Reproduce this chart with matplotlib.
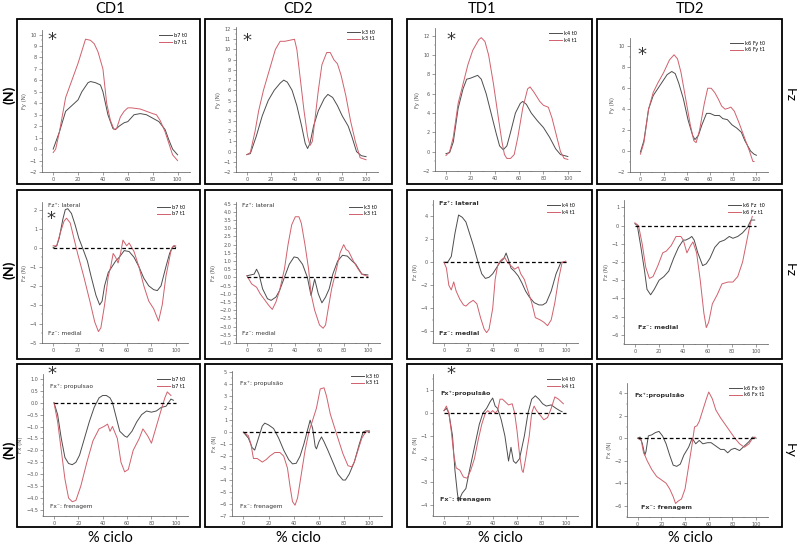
import matplotlib
matplotlib.use('Agg')
import matplotlib.pyplot as plt
from matplotlib.patches import Rectangle
from matplotlib.ticker import MultipleLocator, AutoMinorLocator

W, H = 797, 549

columns = ['CD1', 'CD2', 'TD1', 'TD2']
row_names = ['Fz', 'Fz', 'Fy']

# ---- Fy row ----
cd1_fy_t0_x = [0, 5, 10, 15, 20, 23, 28, 30, 34, 38, 40, 44, 48, 50, 53, 57, 60, 65, 70, 75, 80, 85, 90, 93, 96, 100]
cd1_fy_t0 = [0, 1.5, 3.3, 3.8, 4.3, 5.0, 5.8, 5.9, 5.8, 5.6, 5.0, 3.0, 1.8, 1.7, 2.0, 2.3, 2.4, 3.0, 3.1, 3.0, 2.7, 2.4, 1.7, 0.8, 0.0, -0.5]
cd1_fy_t1_x = [0, 2, 5, 10, 15, 20, 26, 30, 33, 36, 40, 43, 46, 49, 51, 54, 57, 60, 63, 70, 75, 80, 83, 86, 90, 93, 96, 100]
cd1_fy_t1 = [-0.3, 0, 1.5, 4.5, 6.0, 7.5, 9.6, 9.5, 9.2, 8.5, 7.0, 4.0, 2.5, 1.7, 1.8, 2.8, 3.3, 3.6, 3.6, 3.5, 3.3, 3.1, 3.0, 2.5, 1.5, 0.5, -0.5, -1.0]

cd2_fy_t0_x = [0, 3, 8, 13, 18, 23, 28, 31, 34, 38, 42, 46, 49, 51, 53, 56, 60, 65, 68, 72, 76, 80, 85, 88, 92, 96, 100]
cd2_fy_t0 = [-0.3, -0.2, 1.5, 3.5, 5.0, 6.0, 6.7, 7.0, 6.8, 6.0, 4.5, 2.5, 0.8, 0.3, 0.8, 2.5, 4.0, 5.2, 5.6, 5.3, 4.5, 3.5, 2.5, 1.5, 0.0, -0.4, -0.5]
cd2_fy_t1_x = [0, 3, 7, 10, 14, 19, 24, 28, 32, 36, 40, 42, 45, 48, 51, 53, 55, 57, 60, 63, 67, 70, 73, 76, 79, 83, 87, 91, 95, 100]
cd2_fy_t1 = [-0.3, -0.1, 2.0, 4.0, 6.0, 8.0, 10.0, 10.8, 10.8, 10.9, 11.0, 10.0, 7.0, 4.0, 1.5, 0.6, 1.0, 3.0, 6.0, 8.5, 9.7, 9.7, 9.0, 8.6, 7.5, 5.5, 3.0, 1.0, -0.6, -0.8]

td1_fy_t0_x = [0, 3, 6, 10, 14, 17, 20, 24, 26, 29, 33, 37, 41, 44, 47, 50, 53, 57, 61, 63, 66, 70, 75, 80, 85, 90, 94, 100]
td1_fy_t0 = [-0.2, -0.1, 1.0, 4.5, 6.5, 7.5, 7.6, 7.8, 7.9, 7.5, 6.0, 4.0, 2.0, 0.6, 0.2, 0.6, 2.0, 4.0, 5.0, 5.2, 4.9, 4.0, 3.2, 2.5, 1.5, 0.3, -0.3, -0.5]
td1_fy_t1_x = [0, 3, 6, 10, 14, 18, 22, 27, 29, 32, 35, 39, 43, 46, 48, 50, 53, 56, 59, 63, 67, 69, 72, 77, 80, 84, 87, 91, 94, 97, 100]
td1_fy_t1 = [-0.4, 0, 1.5, 5.0, 7.0, 9.0, 10.5, 11.6, 11.8, 11.4, 10.0, 7.0, 3.5, 1.0, -0.3, -0.7, -0.7, -0.3, 1.5, 4.5, 6.5, 6.7, 6.2, 5.2, 4.8, 4.6, 3.5, 1.5, 0, -0.7, -0.8]

td2_fy_t0_x = [0, 3, 7, 11, 17, 23, 27, 30, 33, 37, 41, 45, 47, 50, 53, 57, 60, 64, 68, 71, 75, 79, 83, 87, 90, 95, 98, 100]
td2_fy_t0 = [-0.1, 1.0, 4.0, 5.3, 6.3, 7.3, 7.6, 7.4, 6.5, 5.0, 3.0, 1.5, 1.1, 1.5, 2.5, 3.6, 3.6, 3.4, 3.4, 3.1, 3.0, 2.5, 2.2, 1.8, 1.0, 0.0, -0.3, -0.4]
td2_fy_t1_x = [0, 3, 7, 11, 15, 20, 25, 29, 32, 35, 39, 43, 46, 48, 51, 55, 58, 61, 64, 67, 70, 73, 76, 78, 81, 85, 89, 94, 97, 98]
td2_fy_t1 = [-0.3, 0.8, 4.0, 5.6, 6.5, 7.5, 8.7, 9.2, 8.8, 7.5, 5.0, 2.5, 1.0, 0.8, 2.0, 4.5, 6.0, 6.0, 5.6, 5.0, 4.3, 4.0, 4.1, 4.2, 3.8, 2.7, 1.5, 0.0, -1.0, -1.0]

# ---- Fz row ----
cd1_fz_t0_x = [0, 3, 5, 8, 10, 12, 15, 18, 21, 24, 28, 31, 35, 38, 40, 42, 45, 48, 51, 54, 58, 62, 66, 70, 74, 78, 82, 85, 88, 92, 95, 97, 99, 100]
cd1_fz_t0 = [0, 0.1, 0.5, 1.5, 2.0, 2.05, 1.8, 1.2, 0.5, 0, -0.7, -1.5, -2.5, -3.0, -2.8, -2.0, -1.3, -1.0, -0.7, -0.5, -0.15, -0.2, -0.5, -1.0, -1.6, -2.0, -2.2, -2.25, -2.0, -1.0, -0.3, 0, 0.1, 0]
cd1_fz_t1_x = [0, 3, 6, 9, 11, 14, 17, 20, 25, 30, 34, 37, 39, 42, 45, 47, 49, 51, 53, 55, 57, 60, 62, 66, 70, 74, 78, 82, 86, 89, 92, 96, 98, 100]
cd1_fz_t1 = [0.1, 0.1, 0.8, 1.4, 1.55, 1.3, 0.5, -0.3, -1.5, -2.8, -3.9, -4.4, -4.2, -3.0, -1.5, -1.0, -0.3, -0.5, -0.8, -0.3, 0.4, 0.1, 0.25, -0.2, -1.0, -2.0, -2.8, -3.2, -3.85, -3.0, -1.5, -0.2, 0.1, 0.1]

cd2_fz_t0_x = [0, 3, 6, 8, 10, 13, 17, 20, 24, 27, 31, 35, 39, 42, 46, 50, 53, 56, 59, 62, 65, 68, 71, 75, 79, 83, 87, 90, 95, 100]
cd2_fz_t0 = [0.1, 0.15, 0.2, 0.5, 0.2, -0.7, -1.3, -1.4, -1.2, -0.8, 0, 0.8, 1.25, 1.2, 0.8, 0, -1.1, -0.1, -1.0, -1.55, -1.2, -0.7, 0.2, 1.0, 1.35, 1.3, 1.0, 0.8, 0.2, 0.15]
cd2_fz_t1_x = [0, 4, 8, 11, 15, 18, 21, 24, 27, 31, 34, 37, 40, 43, 45, 48, 51, 53, 56, 60, 63, 65, 67, 70, 74, 77, 80, 82, 84, 88, 92, 95, 100]
cd2_fz_t1 = [0.1, -0.4, -0.6, -1.0, -1.4, -1.7, -1.95, -1.5, -0.8, 0.5, 2.0, 3.2, 3.7, 3.7, 3.3, 2.0, 0.5, -1.0, -2.0, -2.9, -3.1, -2.9, -2.0, -0.7, 0.5, 1.5, 2.0, 1.7, 1.6, 1.0, 0.5, 0.2, 0.05]

td1_fz_t0_x = [0, 3, 6, 9, 12, 15, 18, 21, 24, 28, 31, 34, 37, 40, 43, 46, 49, 51, 53, 55, 58, 61, 64, 67, 70, 74, 78, 81, 84, 88, 92, 96, 100]
td1_fz_t0 = [0, 0, 0.5, 2.5, 4.1, 3.9, 3.5, 2.5, 1.5, 0, -1.0, -1.4, -1.3, -1.0, -0.5, 0, 0.3, 0.8, 0.2, -0.5, -0.8, -1.2, -1.8, -2.5, -3.0, -3.5, -3.7, -3.7, -3.5, -2.5, -1.0, 0, 0]
td1_fz_t1_x = [0, 2, 4, 6, 8, 10, 13, 16, 18, 21, 24, 27, 30, 33, 35, 37, 40, 42, 44, 46, 48, 50, 52, 55, 58, 61, 63, 66, 69, 72, 75, 79, 82, 85, 88, 91, 94, 97, 100]
td1_fz_t1 = [0, -0.5, -2.0, -2.4, -1.7, -2.5, -3.2, -3.7, -3.8, -3.5, -3.3, -3.6, -4.8, -5.8, -6.1, -5.8, -4.0, -1.5, -0.3, 0.1, 0.3, 0.4, 0, -0.3, -0.6, -0.4, -1.0, -1.5, -2.5, -3.5, -4.8, -5.0, -5.2, -5.5, -5.0, -3.5, -1.5, 0, 0.1]

td2_fz_t0_x = [0, 2, 5, 8, 10, 13, 16, 20, 24, 28, 32, 36, 40, 42, 45, 47, 49, 52, 56, 59, 62, 66, 70, 74, 78, 81, 85, 89, 93, 96, 99]
td2_fz_t0 = [0.1, 0, -1.2, -2.5, -3.5, -3.8, -3.5, -3.0, -2.8, -2.5, -1.8, -1.2, -0.8, -0.8, -0.7, -0.6, -0.8, -1.5, -2.2, -2.1, -1.8, -1.2, -0.9, -0.8, -0.6, -0.7, -0.6, -0.4, -0.1, 0.3, 0.3]
td2_fz_t1_x = [0, 3, 6, 9, 12, 15, 19, 23, 26, 30, 34, 38, 40, 43, 46, 48, 51, 54, 57, 59, 61, 64, 68, 72, 77, 81, 85, 89, 92, 95, 97]
td2_fz_t1 = [0.15, 0, -1.0, -2.3, -2.9, -2.8, -2.2, -1.5, -1.4, -1.1, -0.6, -0.6, -0.8, -1.5, -1.1, -0.9, -1.5, -3.0, -4.8, -5.6, -5.3, -4.3, -3.8, -3.2, -3.1, -3.1, -2.8, -2.0, -1.0, 0, 0.5]

# ---- Fx row ----
cd1_fx_t0_x = [0, 3, 6, 9, 12, 15, 18, 21, 25, 29, 33, 37, 40, 43, 46, 48, 51, 54, 58, 60, 64, 68, 72, 76, 80, 84, 88, 92, 94, 96, 98]
cd1_fx_t0 = [0, -0.5, -1.5, -2.3, -2.55, -2.6, -2.5, -2.2, -1.5, -0.8, -0.2, 0.2, 0.3, 0.3, 0.2, 0, -0.6, -1.2, -1.4, -1.45, -1.2, -0.8, -0.5, -0.35, -0.4, -0.35, -0.2, -0.15, 0, 0.15, 0.1]
cd1_fx_t1_x = [0, 3, 6, 9, 12, 15, 18, 22, 27, 32, 37, 41, 44, 46, 48, 52, 55, 58, 61, 65, 70, 73, 77, 80, 84, 88, 91, 93, 96]
cd1_fx_t1 = [0, -0.8, -2.0, -3.2, -4.0, -4.15, -4.1, -3.5, -2.5, -1.6, -1.1, -1.0, -0.9, -1.2, -1.0, -1.5, -2.5, -2.9, -2.8, -2.0, -1.5, -1.1, -1.4, -1.7, -1.0, -0.3, 0.2, 0.45, 0.3]

cd2_fx_t0_x = [0, 4, 7, 9, 12, 15, 17, 20, 24, 28, 32, 36, 39, 42, 45, 48, 51, 53, 55, 57, 58, 60, 62, 64, 67, 71, 75, 79, 81, 84, 88, 92, 95, 97, 100]
cd2_fx_t0 = [0, -0.5, -1.3, -1.5, -0.5, 0.5, 0.75, 0.6, 0.3, -0.5, -1.5, -2.3, -2.65, -2.6, -2.0, -1.0, 0.2, 1.0, 0.3, -1.2, -1.4, -0.8, -0.4, -0.8, -1.5, -2.5, -3.5, -4.0, -4.0, -3.5, -2.5, -1.0, 0, 0.1, 0.1]
cd2_fx_t1_x = [0, 4, 6, 8, 11, 15, 18, 21, 25, 29, 32, 35, 37, 39, 41, 43, 46, 49, 52, 55, 58, 61, 64, 66, 69, 72, 75, 79, 83, 86, 88, 91, 94, 97, 100]
cd2_fx_t1 = [0, -0.3, -1.0, -2.2, -2.2, -2.5, -2.3, -2.0, -1.7, -1.7, -2.0, -3.0, -4.5, -5.8, -6.1, -5.5, -3.5, -1.5, 0, 1.0, 2.0, 3.6, 3.7, 3.0, 1.5, 0.5, -0.5, -1.8, -2.8, -2.9, -2.5, -1.5, -0.5, 0, 0.05]

td1_fx_t0_x = [0, 2, 4, 7, 9, 11, 12, 15, 18, 21, 25, 29, 32, 35, 38, 40, 42, 44, 47, 50, 53, 55, 57, 59, 62, 66, 69, 72, 75, 78, 81, 84, 88, 92, 95, 97]
td1_fx_t0 = [0.1, 0.2, 0, -1.0, -2.5, -3.5, -3.85, -3.5, -3.3, -2.5, -1.5, -0.5, 0, 0.2, 0.5, 0.65, 0.3, 0.2, -0.3, -1.0, -2.1, -1.5, -2.1, -2.2, -2.0, -1.0, 0, 0.6, 0.75, 0.6, 0.4, 0.3, 0.35, 0.2, 0.1, 0.05]
td1_fx_t1_x = [0, 2, 4, 6, 8, 10, 13, 16, 19, 22, 25, 28, 31, 34, 36, 38, 40, 42, 44, 46, 48, 50, 53, 56, 58, 60, 62, 64, 65, 67, 70, 72, 74, 76, 79, 82, 85, 88, 91, 94, 97, 98]
td1_fx_t1 = [0.1, 0.3, 0, -0.8, -1.8, -2.4, -2.5, -2.8, -2.85, -2.5, -2.0, -1.2, -0.5, 0, 0.1, 0, 0.1, 0, 0.1, 0.6, 0.6, 0.5, 0.35, 0.4, 0, -0.8, -1.8, -2.5, -2.6, -2.0, -1.0, 0, 0.3, 0.1, -0.1, -0.3, -0.2, 0.2, 0.7, 0.6, 0.45, 0.4]

td2_fx_t0_x = [0, 2, 4, 6, 7, 9, 12, 15, 18, 21, 24, 27, 30, 33, 36, 39, 43, 46, 49, 52, 55, 59, 62, 66, 70, 73, 76, 79, 82, 86, 90, 94, 97, 100]
td2_fx_t0 = [0, 0.1, -0.5, -1.5, -1.2, 0.2, 0.3, 0.5, 0.6, 0.2, -0.5, -1.5, -2.4, -2.5, -2.3, -1.5, -0.8, 0, -0.5, -0.2, -0.5, -0.4, -0.4, -0.7, -1.0, -1.0, -1.3, -1.0, -0.9, -1.1, -0.7, -0.3, 0.1, 0]
td2_fx_t1_x = [0, 3, 5, 6, 8, 12, 16, 20, 24, 27, 30, 32, 34, 37, 40, 43, 46, 48, 50, 52, 55, 58, 60, 63, 66, 70, 74, 78, 82, 86, 90, 94, 97, 99]
td2_fx_t1 = [0, -0.2, -1.3, -1.5, -2.0, -2.8, -3.4, -3.7, -4.0, -4.5, -5.2, -5.8, -5.6, -5.4, -4.5, -2.5, -0.5, 1.0, 1.1, 1.5, 2.5, 3.5, 4.1, 3.5, 2.5, 1.8, 1.2, 0.6, 0, -0.5, -0.8, -0.5, 0, 0.1]

legend_names = [
    [('b7 t0', 'b7 t1'), ('k3 t0', 'k3 t1'), ('k4 t0', 'k4 t1'), ('k6 Fy t0', 'k6 Fy t1')],
    [('b7 t0', 'b7 t1'), ('k3 t0', 'k3 t1'), ('k4 t0', 'k4 t1'), ('k6 Fz  t0', 'k6 Fz t1')],
    [('b7 t0', 'b7 t1'), ('k3 t0', 'k3 t1'), ('k4 t0', 'k4 t1'), ('k6 Fx t0', 'k6 Fx t1')],
]
ylabels = ['Fy (N)', 'Fz (N)', 'Fx (N)']

series = [
    [(cd1_fy_t0_x, cd1_fy_t0, cd1_fy_t1_x, cd1_fy_t1), (cd2_fy_t0_x, cd2_fy_t0, cd2_fy_t1_x, cd2_fy_t1),
     (td1_fy_t0_x, td1_fy_t0, td1_fy_t1_x, td1_fy_t1), (td2_fy_t0_x, td2_fy_t0, td2_fy_t1_x, td2_fy_t1)],
    [(cd1_fz_t0_x, cd1_fz_t0, cd1_fz_t1_x, cd1_fz_t1), (cd2_fz_t0_x, cd2_fz_t0, cd2_fz_t1_x, cd2_fz_t1),
     (td1_fz_t0_x, td1_fz_t0, td1_fz_t1_x, td1_fz_t1), (td2_fz_t0_x, td2_fz_t0, td2_fz_t1_x, td2_fz_t1)],
    [(cd1_fx_t0_x, cd1_fx_t0, cd1_fx_t1_x, cd1_fx_t1), (cd2_fx_t0_x, cd2_fx_t0, cd2_fx_t1_x, cd2_fx_t1),
     (td1_fx_t0_x, td1_fx_t0, td1_fx_t1_x, td1_fx_t1), (td2_fx_t0_x, td2_fx_t0, td2_fx_t1_x, td2_fx_t1)],
]

# y limits and tick step per panel
ylims = [
    [(-2, 10.4, 1), (-2, 12.2, 1), (-2, 12.8, 2), (-2, 10.8, 2)],
    [(-5, 2.4, 1), (-4, 4.6, 0.5), (-7, 5.4, 2), (-6.5, 1.4, 1)],
    [(-4.75, 1.2, 0.5), (-7, 5.1, 1), (-4.5, 1.7, 1), (-7, 4.9, 2)],
]

# frames (pixels) and plot areas (pixels: left, top, right, bottom)
box_cols = [(17, 200), (205, 392), (407, 592), (597, 782)]
box_rows = [(19, 184), (190, 359), (364, 527)]
axes_px = [
    [(42, 30, 190, 172), (236, 27, 378, 172), (435, 28, 580, 171), (630, 38, 768, 172)],
    [(42, 202, 188, 343), (236, 202, 380, 343), (433, 200, 578, 343), (624, 200, 768, 344)],
    [(43, 374, 188, 516), (232, 371, 382, 516), (433, 374, 578, 516), (627, 383, 768, 517)],
]

# asterisk centres (pixels)
stars = [(52, 36), (247, 37), (451, 36), (642, 51), (51, 215), (52, 370), (451, 370)]

c_t0 = '#4d4d4d'
c_t1 = '#d0606c'
big_font = ['Lato', 'DejaVu Sans']

fig = plt.figure(figsize=(W / 100, H / 100), dpi=100)


def px_rect(l, t, r, b):
    return [l / W, 1 - b / H, (r - l) / W, (b - t) / H]


for r in range(3):
    for c in range(4):
        bl, br = box_cols[c]
        bt, bb = box_rows[r]
        x0, y0, w, h = px_rect(bl, bt, br, bb)
        fig.patches.append(Rectangle((x0, y0), w, h, transform=fig.transFigure,
                                     fill=False, edgecolor='black', linewidth=1.3))

        ax = fig.add_axes(px_rect(*axes_px[r][c]))
        tx, t0, t1x, t1 = series[r][c]
        n0, n1 = legend_names[r][c]
        ax.plot(tx, t0, color=c_t0, lw=0.7, label=n0)
        ax.plot(t1x, t1, color=c_t1, lw=0.7, label=n1)
        if r > 0:
            ax.plot([0, 100], [0, 0], color='black', lw=0.9, ls='--', dashes=(3, 2))
        lo, hi, step = ylims[r][c]
        ax.set_ylim(lo, hi)
        ax.set_xlim(-9, 110)
        ax.xaxis.set_major_locator(MultipleLocator(20))
        ax.xaxis.set_minor_locator(AutoMinorLocator(2))
        ax.yaxis.set_major_locator(MultipleLocator(step))
        ax.yaxis.set_minor_locator(AutoMinorLocator(2))
        for s in ['top', 'right']:
            ax.spines[s].set_visible(False)
        for s in ['left', 'bottom']:
            ax.spines[s].set_color('#555555')
            ax.spines[s].set_linewidth(0.5)
        ax.tick_params(which='major', length=2, width=0.4, labelsize=3.5, colors='#555555', pad=1.5)
        ax.tick_params(which='minor', length=1, width=0.3, colors='#555555')
        ax.set_ylabel(ylabels[r], fontsize=4, color='#555555', labelpad=2)
        ax.patch.set_alpha(0)
        ax.legend(loc='upper right', frameon=False, fontsize=3.6, handlelength=2.6,
                  labelspacing=0.3, borderaxespad=0.2, handletextpad=0.4)

        # annotations
        if r == 1:
            bold = 'bold' if c >= 2 else 'normal'
            fs = 4.6 if c >= 2 else 4.2
            if c < 3:
                ax.text(0.04, 0.99, 'Fz\u207a: lateral', transform=ax.transAxes, fontsize=fs,
                        fontweight=bold, va='top', ha='left', color='#333333')
            ax.text(0.04 if c < 3 else 0.1, 0.05 if c < 3 else 0.1, 'Fz\u207b: medial',
                    transform=ax.transAxes, fontsize=fs, fontweight=bold, va='bottom',
                    ha='left', color='#333333')
        if r == 2:
            bold = 'bold' if c >= 2 else 'normal'
            fs = 4.6 if c >= 2 else 4.2
            top_txt = ['Fx\u207a: propulsao', 'Fx\u207a: propulsão', 'Fx\u207a:propulsão', 'Fx\u207a:propulsão'][c]
            bot_txt = ['Fx\u207b: frenagem', 'Fx\u207b: frenagem', 'Fx\u207b: frenagem', 'Fx\u207b: frenagem'][c]
            ax.text(0.05, 0.93 if c != 2 else 0.88, top_txt, transform=ax.transAxes,
                    fontsize=fs, fontweight=bold, va='top', ha='left', color='#333333')
            ax.text(0.05 if c != 3 else 0.1, 0.05 if c != 2 else 0.1, bot_txt, transform=ax.transAxes,
                    fontsize=fs, fontweight=bold, va='bottom', ha='left', color='#333333')

# significance asterisks, placed by their centre
for sx, sy in stars:
    fig.text(sx / W, 1 - (sy + 9) / H, '*', ha='center', va='baseline', fontsize=13,
             color='#333333')

# column titles and x captions
title_x = [110, 298, 482, 690]
cap_x = [110, 298, 500, 690]
for c, name in enumerate(columns):
    fig.text(title_x[c] / W, 1 - 9 / H, name, ha='center', va='center', fontsize=10.5,
             family=big_font)
    fig.text(cap_x[c] / W, 1 - 538 / H, '% ciclo', ha='center', va='center', fontsize=10.5,
             family=big_font)

# left unit labels and right component labels
row_y = [95, 270, 450]
for r in range(3):
    fig.text(9 / W, 1 - row_y[r] / H, '(N)', rotation=90, ha='center', va='center',
             fontsize=10, fontweight='bold', family=big_font)
    fig.text(790 / W, 1 - row_y[r] / H, row_names[r], rotation=270, ha='center', va='center',
             fontsize=10, family=big_font)

fig.savefig('out.png', dpi=100)
